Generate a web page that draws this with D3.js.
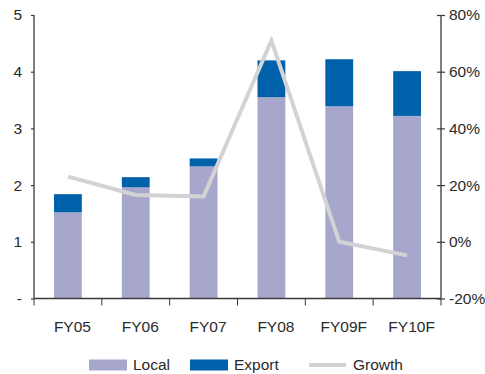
<!DOCTYPE html>
<html>
<head>
<meta charset="utf-8">
<script src="https://cdn.jsdelivr.net/npm/d3@7/dist/d3.min.js"></script>
<style>
  html, body { margin: 0; padding: 0; background: #fff; }
  svg { display: block; font-family: "Liberation Sans", Arial, sans-serif; }
</style>
</head>
<body>
<svg id="chart" width="485" height="374"></svg>
<script>
// Sales by year (split into local and export) with year-on-year growth
const categories = ["FY05", "FY06", "FY07", "FY08", "FY09F", "FY10F"];
const localValues = [1.52, 1.96, 2.33, 3.55, 3.39, 3.22];
const exportValues = [0.32, 0.18, 0.14, 0.65, 0.83, 0.79];
const growthValues = [0.23, 0.165, 0.16, 0.71, 0.0, -0.048];
const leftTicks = [0, 1, 2, 3, 4, 5];
const rightTicks = [-0.2, 0, 0.2, 0.4, 0.6, 0.8];

const colors = { local: "#a7a7cd", export: "#0061ab", growth: "#d3d3d3", axis: "#3a3a3a", text: "#2a2a2a" };
const fontSize = "15.5px";

const svg = d3.select("#chart");
const m = { left: 34, right: 441, top: 15, bottom: 298.5 };

const x = d3.scaleBand().domain(categories).range([m.left, m.right]).paddingInner(0.59).paddingOuter(0.295);
const xTicks = d3.scaleBand().domain(categories).range([m.left, m.right]);
const yL = d3.scaleLinear().domain([0, 5]).range([m.bottom, m.top]);
const yR = d3.scaleLinear().domain([-0.2, 0.8]).range([m.bottom, m.top]);

const rows = categories.map((c, i) => ({ cat: c, local: localValues[i], export: exportValues[i], growth: growthValues[i] }));
const stacked = d3.stack().keys(["local", "export"])(rows);

svg.append("g").selectAll("g").data(stacked).join("g")
  .attr("fill", d => colors[d.key])
  .selectAll("rect").data(d => d).join("rect")
  .attr("x", d => x(d.data.cat))
  .attr("width", x.bandwidth())
  .attr("y", d => yL(d[1]))
  .attr("height", d => yL(d[0]) - yL(d[1]));

// Growth line
const line = d3.line()
  .x(d => xTicks(d.cat) + xTicks.bandwidth() / 2)
  .y(d => yR(d.growth));
svg.append("path").datum(rows)
  .attr("d", line)
  .attr("fill", "none")
  .attr("stroke", colors.growth)
  .attr("stroke-width", 4)
  .attr("stroke-linejoin", "miter");

// Left axis
const leftAxis = svg.append("g").attr("transform", `translate(${m.left},0)`)
  .call(d3.axisLeft(yL).tickValues(leftTicks).tickSize(3).tickPadding(9)
    .tickFormat(d => d === 0 ? "-" : d3.format("d")(d)));

// Right axis with ticks crossing the line; plain hyphen for negatives
const pct = d => Math.round(d * 100) + "%";
const rightAxis = svg.append("g").attr("transform", `translate(${m.right},0)`)
  .call(d3.axisRight(yR).tickValues(rightTicks).tickSize(4).tickPadding(4)
    .tickFormat(pct));
rightAxis.selectAll(".tick line").attr("x1", -4);

// Bottom axis with ticks between categories
const bottomAxis = svg.append("g").attr("transform", `translate(0,${m.bottom})`)
  .call(d3.axisBottom(xTicks).tickSize(0).tickPadding(22));
bottomAxis.selectAll(".tick line").remove();
bottomAxis.selectAll(".tick text").attr("dx", 4.5);
bottomAxis.append("g").selectAll("line")
  .data(categories.concat(["end"]))
  .join("line")
  .attr("x1", (d, i) => m.left + i * xTicks.step())
  .attr("x2", (d, i) => m.left + i * xTicks.step())
  .attr("y1", 0).attr("y2", 7)
  .attr("stroke", colors.axis);

[leftAxis, rightAxis, bottomAxis].forEach(a => {
  a.select(".domain").attr("stroke", colors.axis).attr("stroke-width", 1.3);
  a.selectAll(".tick line").attr("stroke", colors.axis).attr("stroke-width", 1.2);
  a.selectAll("text").attr("fill", colors.text).style("font-size", fontSize).style("font-family", "'Liberation Sans', Arial, sans-serif");
});
leftAxis.select(".domain").attr("d", `M0,${m.top}V${m.bottom}`);
rightAxis.select(".domain").attr("d", `M0,${m.top}V${m.bottom}`);
bottomAxis.select(".domain").attr("d", `M${m.left},0H${m.right}`);

// Legend
const legend = svg.append("g").style("font-size", fontSize).attr("fill", colors.text);
const legendItems = [
  { label: "Local", type: "rect", color: colors.local, x: 89 },
  { label: "Export", type: "rect", color: colors.export, x: 190 },
  { label: "Growth", type: "line", color: colors.growth, x: 309 }
];
const ly = 365;
legendItems.forEach(it => {
  if (it.type === "rect") {
    legend.append("rect").attr("x", it.x).attr("y", ly - 5.5).attr("width", 38).attr("height", 11).attr("fill", it.color);
  } else {
    legend.append("line").attr("x1", it.x).attr("x2", it.x + 37).attr("y1", ly).attr("y2", ly)
      .attr("stroke", it.color).attr("stroke-width", 4);
  }
  legend.append("text").attr("x", it.x + 44).attr("y", ly).attr("dy", "0.35em").text(it.label);
});
</script>
</body>
</html>
